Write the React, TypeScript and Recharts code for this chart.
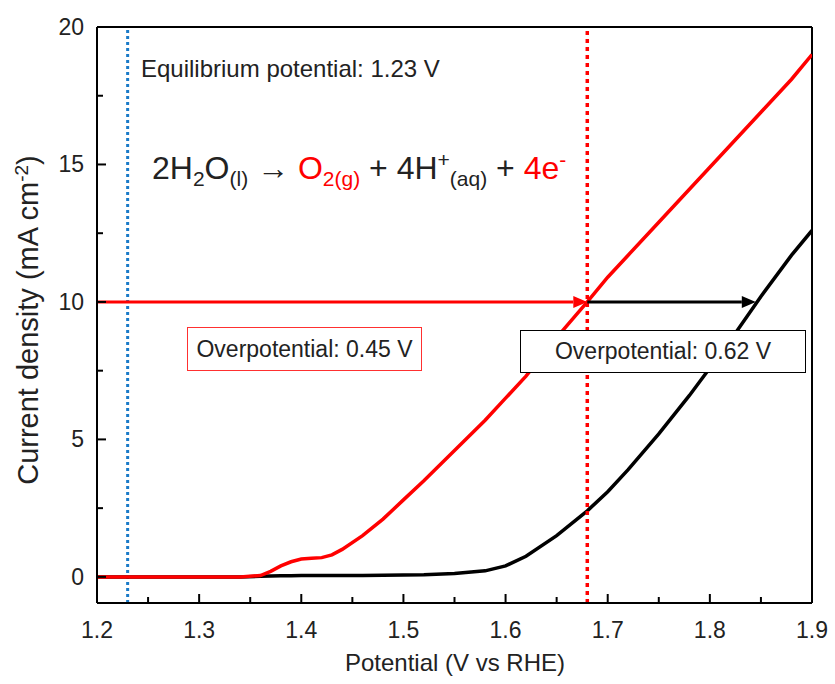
import React from 'react';
import { LineChart, Line, XAxis, YAxis, ReferenceLine } from 'recharts';

// 電位 (V vs RHE)
const potential = [1.2, 1.25, 1.3, 1.34, 1.36, 1.37, 1.38, 1.39, 1.4, 1.41, 1.42, 1.43, 1.44, 1.46, 1.48, 1.5, 1.52, 1.55, 1.58, 1.6, 1.62, 1.65, 1.68, 1.7, 1.72, 1.75, 1.78, 1.8, 1.82, 1.85, 1.88, 1.9];
// 赤: 触媒あり
const redCurrent = [0, 0, 0, 0, 0.05, 0.2, 0.4, 0.55, 0.65, 0.68, 0.7, 0.8, 1.0, 1.5, 2.1, 2.8, 3.5, 4.6, 5.7, 6.5, 7.3, 8.7, 10, 10.9, 11.7, 12.9, 14.1, 14.9, 15.7, 16.9, 18.1, 19];
// 黒: 比較
const blackCurrent = [0, 0, 0, 0, 0.02, 0.03, 0.04, 0.04, 0.05, 0.05, 0.05, 0.05, 0.05, 0.05, 0.06, 0.07, 0.08, 0.12, 0.22, 0.4, 0.75, 1.5, 2.4, 3.1, 3.9, 5.2, 6.6, 7.6, 8.6, 10.2, 11.7, 12.6];

const xMajor = [1.2, 1.3, 1.4, 1.5, 1.6, 1.7, 1.8, 1.9];
const xMinor = [1.25, 1.35, 1.45, 1.55, 1.65, 1.75, 1.85];
const yMajor = [0, 5, 10, 15, 20];
const yMinor = [2.5, 7.5, 12.5, 17.5];

const equilibrium = 1.23;
const onsetRed = 1.68;
const onsetBlack = 1.845;
const targetCurrent = 10;

const data = potential.map((p, i) => ({ p, red: redCurrent[i], black: blackCurrent[i] }));
const xTicks = [...xMajor, ...xMinor].sort((a, b) => a - b);
const yTicks = [...yMajor, ...yMinor].sort((a, b) => a - b);

const FONT = '"Liberation Sans", Arial, sans-serif';

const XTick = (props: any) => {
  const { x, y, payload } = props;
  const major = xMajor.some((v) => Math.abs(v - payload.value) < 1e-6);
  return (
    <g>
      <line x1={x} y1={y} x2={x} y2={y - (major ? 9 : 6)} stroke="#000" strokeWidth={2} />
      {major && (
        <text x={x} y={y + 35} textAnchor="middle" fontSize={23} fontFamily={FONT} fill="#222">
          {payload.value.toFixed(1)}
        </text>
      )}
    </g>
  );
};

const YTick = (props: any) => {
  const { x, y, payload } = props;
  const major = yMajor.includes(payload.value);
  return (
    <g>
      <line x1={x} y1={y} x2={x + (major ? 9 : 6)} y2={y} stroke="#000" strokeWidth={2} />
      {major && (
        <text x={x - 13} y={y + 8} textAnchor="end" fontSize={23} fontFamily={FONT} fill="#222">
          {payload.value}
        </text>
      )}
    </g>
  );
};

// 矢印付きの線
const arrow = (color: string) => (props: any) => {
  const { x1, y1, x2, y2 } = props;
  const head = 14;
  return (
    <g>
      <line x1={x1} y1={y1} x2={x2 - head} y2={y2} stroke={color} strokeWidth={3} />
      <polygon points={`${x2},${y2} ${x2 - head},${y2 - 6} ${x2 - head},${y2 + 6}`} fill={color} />
    </g>
  );
};

const sub = { fontSize: 21 };

export default function App() {
  return (
    <div style={{ position: 'relative', width: 835, height: 684, fontFamily: FONT }}>
      <style>{`body{margin:0}`}</style>
      <LineChart width={835} height={684} data={data} margin={{ top: 27, right: 23, bottom: 0, left: 0 }}>
        <XAxis
          dataKey="p"
          type="number"
          domain={[1.2, 1.9]}
          ticks={xTicks}
          interval={0}
          tick={<XTick />}
          tickLine={false}
          tickSize={0}
          tickMargin={0}
          height={81}
          axisLine={{ stroke: '#000', strokeWidth: 2 }}
          allowDataOverflow
        />
        <YAxis
          type="number"
          domain={[-0.95, 20]}
          ticks={yTicks}
          interval={0}
          tick={<YTick />}
          tickLine={false}
          tickSize={0}
          tickMargin={0}
          width={97}
          axisLine={{ stroke: '#000', strokeWidth: 2 }}
          allowDataOverflow
        />
        <ReferenceLine x={1.9} stroke="#000" strokeWidth={2} />
        <ReferenceLine y={20} stroke="#000" strokeWidth={2} />
        <ReferenceLine x={equilibrium} stroke="#1a7ac8" strokeWidth={3} strokeDasharray="3 3" />
        <Line dataKey="black" stroke="#000" strokeWidth={3.5} dot={false} isAnimationActive={false} />
        <Line dataKey="red" stroke="#ff0000" strokeWidth={3.5} dot={false} isAnimationActive={false} />
        <ReferenceLine x={onsetRed} stroke="#ff0000" strokeWidth={3.5} strokeDasharray="4 4" />
        <ReferenceLine
          segment={[{ x: 1.2, y: targetCurrent }, { x: onsetRed, y: targetCurrent }]}
          shape={arrow('#ff0000')}
        />
        <ReferenceLine
          segment={[{ x: onsetRed, y: targetCurrent }, { x: onsetBlack, y: targetCurrent }]}
          shape={arrow('#000')}
        />
      </LineChart>

      {/* 軸ラベル */}
      <div
        style={{
          position: 'absolute', left: 28, top: 320, transform: 'translate(-50%, -50%) rotate(-90deg)',
          whiteSpace: 'nowrap', fontSize: 29, color: '#222',
        }}
      >
        Current density (mA cm<sup style={{ fontSize: 19 }}>-2</sup>)
      </div>
      <div
        style={{
          position: 'absolute', left: 455, top: 663, transform: 'translate(-50%, -50%)',
          whiteSpace: 'nowrap', fontSize: 24, color: '#222',
        }}
      >
        Potential (V vs RHE)
      </div>

      <div style={{ position: 'absolute', left: 141, top: 55, fontSize: 24, color: '#222', whiteSpace: 'nowrap' }}>
        Equilibrium potential: 1.23 V
      </div>

      <div style={{ position: 'absolute', left: 152, top: 148, fontSize: 32, color: '#222', whiteSpace: 'nowrap' }}>
        2H<sub style={sub}>2</sub>O<sub style={sub}>(l)</sub> →{' '}
        <span style={{ color: '#ff0000' }}>O<sub style={sub}>2(g)</sub></span> + 4H
        <sup style={sub}>+</sup><sub style={sub}>(aq)</sub> +{' '}
        <span style={{ color: '#ff0000' }}>4e<sup style={sub}>-</sup></span>
      </div>

      <div
        style={{
          position: 'absolute', left: 187, top: 327, width: 235, height: 44, boxSizing: 'border-box',
          border: '1.5px solid #ff3030', background: '#fff', fontSize: 23, color: '#222',
          display: 'flex', alignItems: 'center', justifyContent: 'center',
        }}
      >
        Overpotential: 0.45 V
      </div>

      <div
        style={{
          position: 'absolute', left: 520, top: 330, width: 286, height: 43, boxSizing: 'border-box',
          border: '1.5px solid #000', background: '#fff', fontSize: 23, color: '#222',
          display: 'flex', alignItems: 'center', justifyContent: 'center',
        }}
      >
        Overpotential: 0.62 V
      </div>
    </div>
  );
}
